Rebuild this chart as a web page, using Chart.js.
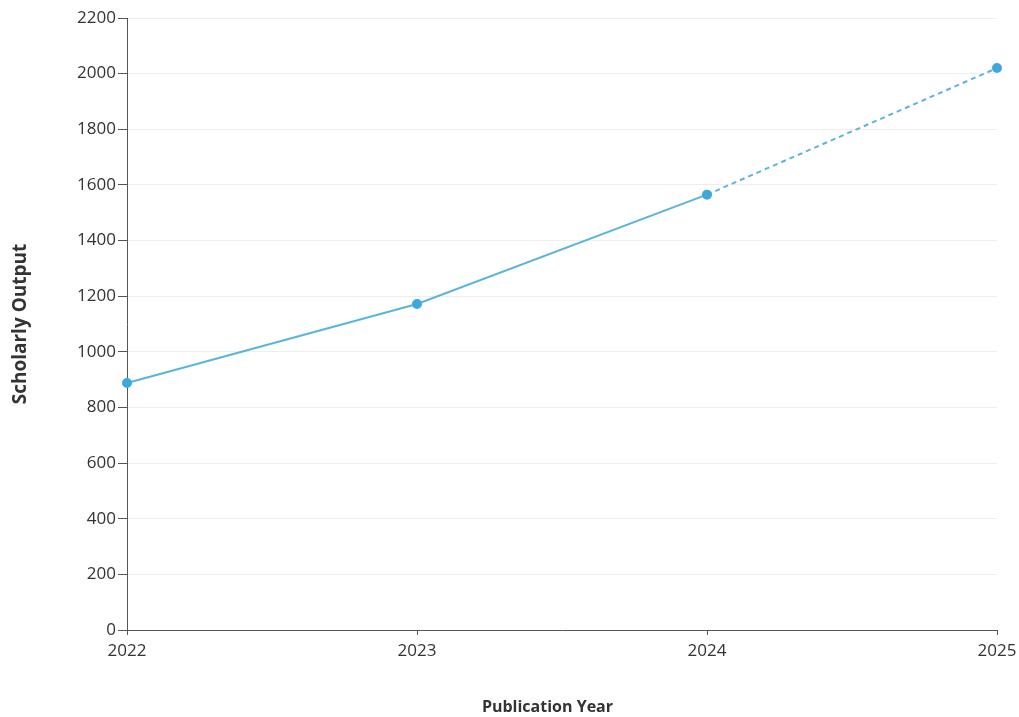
<!DOCTYPE html>
<html>
<head>
<meta charset="utf-8">
<script src="https://cdn.jsdelivr.net/npm/chart.js@4/dist/chart.umd.min.js"></script>
<style>
  html, body { margin: 0; padding: 0; background: #fff; }
  #wrap { width: 1019px; height: 717px; }
</style>
</head>
<body>
<div id="wrap"><canvas id="outputChart"></canvas></div>
<script>
// Publication years and scholarly output per year
const years = ['2022', '2023', '2024', '2025'];
const output = [888, 1172, 1565, 2020];
const yTicks = [0, 200, 400, 600, 800, 1000, 1200, 1400, 1600, 1800, 2000, 2200];

const lineColor = '#5ab4de';
const pointColor = '#3ea8dc';
const axisColor = '#555555';
const textColor = '#333333';

// last segment (partial year) is drawn dashed
const lastSeg = output.length - 2;

new Chart(document.getElementById('outputChart'), {
    type: 'line',
    data: {
        labels: years,
        datasets: [{
            label: 'Scholarly Output',
            data: output,
            borderColor: lineColor,
            borderWidth: 2,
            pointBackgroundColor: pointColor,
            pointBorderColor: pointColor,
            pointRadius: 4,
            tension: 0,
            segment: {
                borderDash: ctx => ctx.p0DataIndex === lastSeg ? [5, 4] : undefined
            }
        }]
    },
    options: {
        responsive: true,
        maintainAspectRatio: false,
        animation: false,
        layout: { padding: { top: 18, right: 22, left: 0, bottom: 0 } },
        plugins: {
            legend: { display: false },
            tooltip: { enabled: false }
        },
        scales: {
            x: {
                type: 'category',
                offset: false,
                border: { color: axisColor, width: 1 },
                grid: { drawOnChartArea: false, tickColor: axisColor, tickLength: 5 },
                ticks: {
                    color: textColor,
                    padding: 6,
                    maxRotation: 0,
                    font: { family: "'Open Sans', sans-serif", size: 17 }
                },
                title: {
                    display: true,
                    // trailing spaces nudge the centred title left, as in the source
                    text: 'Publication Year\u00a0\u00a0\u00a0\u00a0\u00a0\u00a0\u00a0',
                    color: textColor,
                    padding: { top: 0, bottom: 0 },
                    font: { family: "'Open Sans', sans-serif", size: 16, weight: 'bold' }
                },
                afterFit: scale => {
                    scale.height = 87;
                    scale.paddingLeft = 0;
                    scale.paddingRight = 0;
                }
            },
            y: {
                min: 0,
                max: 2200,
                border: { color: axisColor, width: 1 },
                grid: { color: '#eeeeee', tickColor: axisColor, tickLength: 9 },
                afterBuildTicks: scale => { scale.ticks = yTicks.map(v => ({ value: v })); },
                ticks: {
                    color: textColor,
                    padding: 2,
                    callback: value => String(value),
                    font: { family: "'Open Sans', sans-serif", size: 17 }
                },
                title: {
                    display: true,
                    text: 'Scholarly Output',
                    color: textColor,
                    padding: { top: 9, bottom: 0 },
                    font: { family: "'Open Sans', sans-serif", size: 19, weight: 'bold' }
                },
                afterFit: scale => {
                    scale.width = 127;
                    scale.paddingTop = 0;
                    scale.paddingBottom = 0;
                }
            }
        }
    }
});
</script>
</body>
</html>
